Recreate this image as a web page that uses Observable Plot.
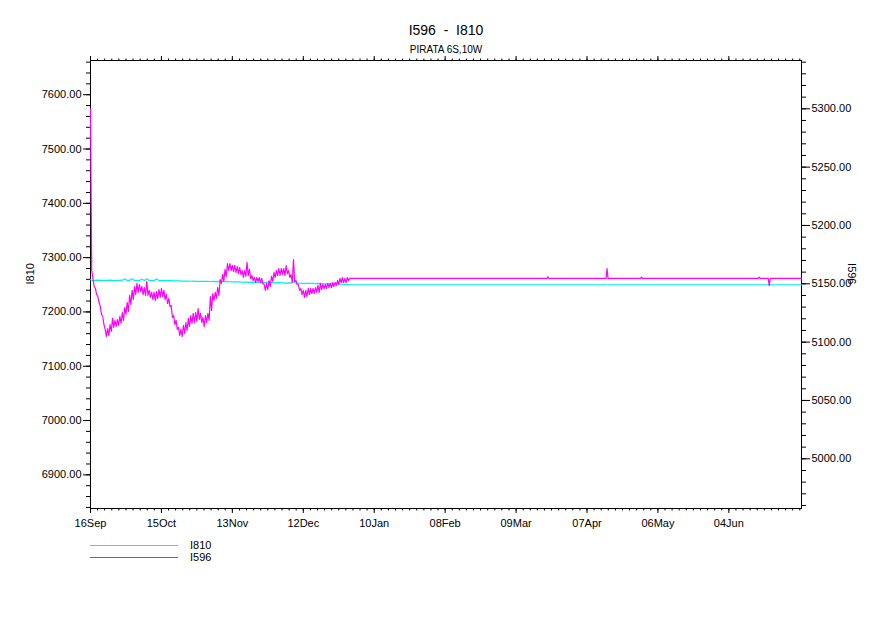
<!DOCTYPE html>
<html><head><meta charset="utf-8">
<script src="https://cdn.jsdelivr.net/npm/d3@7"></script>
<script src="https://cdn.jsdelivr.net/npm/@observablehq/plot@0.6"></script>
<style>
body{margin:0;background:#fff;}
#wrap{position:relative;width:891px;height:630px;}
#legend{position:absolute;left:90px;top:539px;font:11px "Liberation Sans",Arial,sans-serif;color:#000;}
.row{display:flex;align-items:center;height:12px;}
.sw{width:88px;height:1px;margin-right:12px;}
</style></head><body><div id="wrap"></div>
<script>
// ---- data ----
const startDate = "2010-09-16";       // first sample (16Sep)
const endDay = 290.7;                 // last day shown on the time axis
const seriesNames = ["I810", "I596"];
const seriesColors = ["#00eeee", "#ff00ff"];

// I596 (right axis), 12-hourly values (daily high then low), days 0 .. 106
const i596Half = [
5300.0, 5161.4, 5154.6, 5147.7, 5146.0, 5140.8, 5139.1, 5134.0, 5130.6, 5123.7,
5122.0, 5115.1, 5110.9, 5104.8, 5111.7, 5105.7, 5115.1, 5109.1, 5120.3, 5112.6,
5118.6, 5113.4, 5119.4, 5114.3, 5122.0, 5116.0, 5125.4, 5118.6, 5129.7, 5123.7,
5134.0, 5126.3, 5140.0, 5132.3, 5144.3, 5136.6, 5147.7, 5140.8, 5150.3, 5142.6,
5149.4, 5143.4, 5147.7, 5140.8, 5146.8, 5140.0, 5152.0, 5140.0, 5144.3, 5138.3,
5142.6, 5136.6, 5142.6, 5135.7, 5143.4, 5137.4, 5145.1, 5138.3, 5146.0, 5139.1,
5144.3, 5136.6, 5140.8, 5133.1, 5137.4, 5130.6, 5131.4, 5121.1, 5122.8, 5115.1,
5118.6, 5110.9, 5112.6, 5105.7, 5110.9, 5104.8, 5114.3, 5107.4, 5116.8, 5110.0,
5120.3, 5113.4, 5122.8, 5116.0, 5124.6, 5116.8, 5125.4, 5117.7, 5128.8, 5119.4,
5124.6, 5116.8, 5121.1, 5113.4, 5122.8, 5116.8, 5124.6, 5118.6, 5139.1, 5127.1,
5141.7, 5135.7, 5142.6, 5137.4, 5146.8, 5140.0, 5153.7, 5150.3, 5158.0, 5152.0,
5162.3, 5156.3, 5167.4, 5161.4, 5167.4, 5161.4, 5165.7, 5160.6, 5165.7, 5159.7,
5164.8, 5158.8, 5164.0, 5158.0, 5161.4, 5155.4, 5161.4, 5156.3, 5168.3, 5157.1,
5162.3, 5154.6, 5157.1, 5152.8, 5155.4, 5151.1, 5155.4, 5152.0, 5155.4, 5151.1,
5154.6, 5150.3, 5149.4, 5144.3, 5150.3, 5145.1, 5152.8, 5147.7, 5156.3, 5152.0,
5159.7, 5155.4, 5161.4, 5157.1, 5163.1, 5157.1, 5163.1, 5158.0, 5163.1, 5157.1,
5165.7, 5158.8, 5161.4, 5155.4, 5158.0, 5151.1, 5170.8, 5152.0, 5152.8, 5149.4,
5149.4, 5144.3, 5146.0, 5140.8, 5144.3, 5138.3, 5144.3, 5139.1, 5146.0, 5140.8,
5146.0, 5141.7, 5146.0, 5141.7, 5146.8, 5142.6, 5148.6, 5142.6, 5150.3, 5145.1,
5149.4, 5146.0, 5149.4, 5146.0, 5150.3, 5146.8, 5150.3, 5146.8, 5151.1, 5147.7,
5151.1, 5148.6, 5152.8, 5149.4, 5154.6, 5151.1, 5155.4, 5151.1, 5154.6, 5151.1,
5155.4, 5152.8, 5154.6
];
// I596 after the noisy part (day offsets and values)
const i596TailDay = [106.5, 186.6, 187.0, 187.4, 210.8, 211.2, 211.6, 224.9, 225.3, 225.7, 273.0, 273.4, 273.8, 277.1, 277.5, 277.9, 290.7];
const i596TailVal = [5154.6, 5154.6, 5156.0, 5154.6, 5154.6, 5163.0, 5154.6, 5154.6, 5155.8, 5154.6, 5154.6, 5155.8, 5154.6, 5154.6, 5148.5, 5154.6, 5154.6];

// I810 (left axis), daily values, days 0 .. 106
const i810Daily = [
7259.2, 7257.5, 7258.0, 7258.5, 7258.0, 7258.2, 7257.8, 7258.0, 7258.5, 7258.0,
7257.8, 7258.2, 7258.0, 7258.4, 7261.0, 7258.0, 7258.2, 7261.0, 7258.0, 7257.9,
7258.0, 7260.5, 7258.0, 7261.0, 7258.1, 7257.8, 7258.0, 7260.8, 7257.9, 7258.0,
7257.6, 7257.8, 7257.5, 7257.6, 7257.3, 7257.0, 7257.2, 7256.8, 7256.9, 7256.6,
7256.8, 7256.5, 7256.6, 7256.3, 7256.5, 7256.2, 7256.4, 7256.1, 7256.3, 7256.0,
7256.2, 7255.9, 7256.1, 7255.8, 7256.0, 7255.7, 7255.9, 7255.6, 7255.4, 7255.5,
7255.2, 7255.4, 7254.6, 7255.0, 7254.8, 7254.5, 7254.7, 7254.4, 7254.2, 7254.4,
7254.0, 7254.2, 7253.9, 7255.5, 7253.8, 7254.0, 7253.6, 7253.8, 7253.4, 7253.6,
7253.2, 7253.4, 7253.1, 7255.0, 7252.9, 7253.1, 7252.8, 7252.0, 7252.6, 7252.8,
7252.4, 7252.6, 7252.2, 7252.4, 7252.0, 7252.2, 7251.8, 7252.0, 7251.6, 7251.8,
7251.4, 7251.6, 7251.2, 7251.0, 7250.8, 7250.6, 7250.0
];
const i810TailDay = [107, 290.7];
const i810TailVal = [7250.0, 7250.0];

// axis ranges / tick values
const leftDomain = [6838, 7663];
const rightDomain = [4957.4, 5341.4];
const leftMajor = [6900, 7000, 7100, 7200, 7300, 7400, 7500, 7600];
const rightMajor = [5000, 5050, 5100, 5150, 5200, 5250, 5300];
const xMajorStep = 29;      // days between labelled time ticks
const xMajorCount = 10;     // 16Sep .. 04Jun
const xMinorStep = 2.9;     // days between minor time ticks
const titleText = "I596\u00a0\u00a0-\u00a0\u00a0I810";
const subtitleText = "PIRATA 6S,10W";

// ---- build ----
const DAY = 864e5;
const t0 = Date.parse(startDate + "T00:00:00Z");
const at = d => new Date(t0 + d * DAY);
const toLeft = v => leftDomain[0] + (v - rightDomain[0]) * (leftDomain[1] - leftDomain[0]) / (rightDomain[1] - rightDomain[0]);
const fromLeft = u => rightDomain[0] + (u - leftDomain[0]) * (rightDomain[1] - rightDomain[0]) / (leftDomain[1] - leftDomain[0]);

const i596 = [
  ...i596Half.map((v, i) => ({d: i * 0.5, v})),
  ...i596TailDay.map((d, i) => ({d, v: i596TailVal[i]}))
].map(o => ({date: at(o.d), y: toLeft(o.v)}));
const i810 = [
  ...i810Daily.map((v, i) => ({d: i, v})),
  ...i810TailDay.map((d, i) => ({d, v: i810TailVal[i]}))
].map(o => ({date: at(o.d), y: o.v}));

const majorX = d3.range(0, xMajorCount).map(i => at(i * xMajorStep));
const minorX = d3.range(0, Math.floor(endDay / xMinorStep) + 1).map(i => at(i * xMinorStep));
const leftMinor = d3.range(6840, 7661, 20);
const rightMinor = d3.range(4960, 5341, 10).map(toLeft);
const rightMajorT = rightMajor.map(toLeft);
const f2 = d3.format(".2f");

const chart = Plot.plot({
  width: 891, height: 630,
  marginLeft: 90, marginRight: 90, marginTop: 60, marginBottom: 122,
  style: {fontFamily: "'Liberation Sans', Arial, sans-serif", fontSize: "11px", background: "white", color: "black", overflow: "visible"},
  x: {type: "utc", domain: [at(0), at(endDay)], axis: null},
  y: {domain: leftDomain, axis: null},
  marks: [
    Plot.frame({stroke: "black"}),
    Plot.axisX(minorX, {anchor: "bottom", tickSize: 2.5, fill: "none", label: null}),
    Plot.axisX(majorX, {anchor: "bottom", tickSize: 5, tickPadding: 6, tickFormat: d3.utcFormat("%d%b"), label: null}),
    Plot.axisX(minorX, {anchor: "top", tickSize: 2.5, fill: "none", label: null}),
    Plot.axisX(majorX, {anchor: "top", tickSize: 5, fill: "none", label: null}),
    Plot.axisY(leftMinor, {anchor: "left", tickSize: 4, fill: "none", label: null}),
    Plot.axisY(leftMajor, {anchor: "left", tickSize: 7, tickPadding: 2, tickFormat: f2, label: null}),
    Plot.axisY(rightMinor, {anchor: "right", tickSize: 4, fill: "none", label: null}),
    Plot.axisY(rightMajorT, {anchor: "right", tickSize: 8, tickPadding: 2, tickFormat: d => f2(fromLeft(d)), label: null}),
    Plot.line(i810, {x: "date", y: "y", stroke: seriesColors[0], strokeWidth: 1.2}),
    Plot.line(i596, {x: "date", y: "y", stroke: seriesColors[1], strokeWidth: 1.2}),
    Plot.text([titleText], {text: d => d, frameAnchor: "top", dy: -35, fontSize: 14}),
    Plot.text([subtitleText], {text: d => d, frameAnchor: "top", dy: -15, fontSize: 10}),
    Plot.text([seriesNames[0]], {text: d => d, frameAnchor: "left", dx: -60, rotate: -90, fontSize: 11}),
    Plot.text([seriesNames[1]], {text: d => d, frameAnchor: "right", dx: 50, rotate: 90, fontSize: 11})
  ]
});

const wrap = document.getElementById("wrap");
wrap.appendChild(chart);
const legend = document.createElement("div");
legend.id = "legend";
legend.innerHTML = seriesNames.map((n, i) =>
  `<div class="row"><div class="sw" style="background:${seriesColors[i]}"></div><span>${n}</span></div>`).join("");
wrap.appendChild(legend);
</script></body></html>
